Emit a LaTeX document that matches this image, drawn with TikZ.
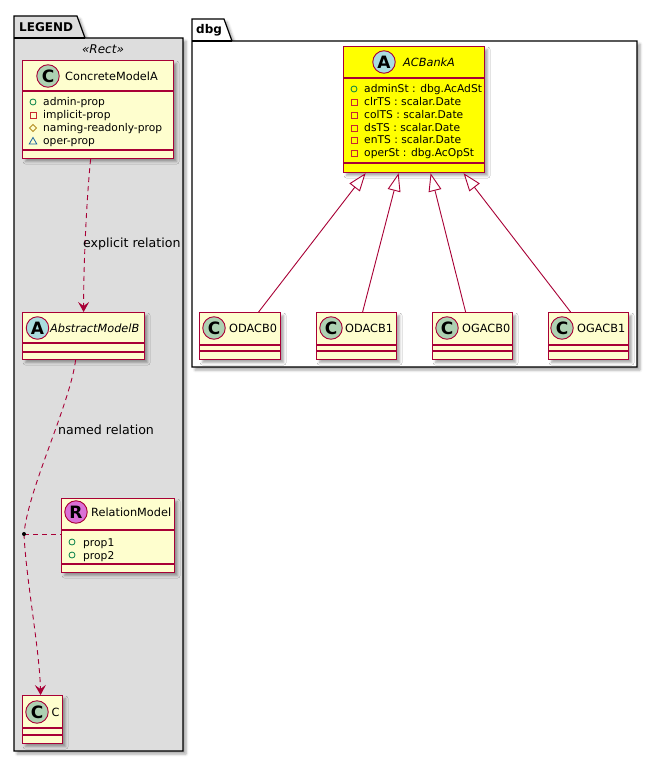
\documentclass[tikz,border=0pt]{standalone}
\usepackage{fontspec}
\setmainfont{DejaVu Sans}
\usetikzlibrary{arrows.meta,shadows.blur,calc}
\definecolor{umlborder}{HTML}{A80036}
\definecolor{umlfill}{HTML}{FEFECE}
\definecolor{pkgfill}{HTML}{DDDDDD}
\definecolor{circC}{HTML}{ADD1B2}
\definecolor{circA}{HTML}{A9DCDF}
\definecolor{circR}{HTML}{DA70D6}
\definecolor{visPub}{HTML}{038048}
\definecolor{visPriv}{HTML}{C82930}
\definecolor{visProt}{HTML}{B38D22}
\definecolor{visPkg}{HTML}{1963A0}
\definecolor{acyellow}{HTML}{FFFF00}
\newcommand{\vpub}[2]{\draw[visPub, line width=0.8pt] (#1,#2) circle (3pt);}
\newcommand{\vpriv}[2]{\draw[visPriv, line width=0.8pt] (#1-3,#2-3) rectangle (#1+3,#2+3);}
\newcommand{\vprot}[2]{\draw[visProt, line width=0.8pt] (#1-3.5,#2) -- (#1,#2-3.5) -- (#1+3.5,#2) -- (#1,#2+3.5) -- cycle;}
\newcommand{\vpkg}[2]{\draw[visPkg, line width=0.8pt] (#1-3.8,#2+3) -- (#1+3.8,#2+3) -- (#1,#2-3.5) -- cycle;}
\begin{document}
\begin{tikzpicture}[x=1pt,y=-1pt,
  shadowed/.style={blur shadow={shadow xshift=3pt,shadow yshift=-3pt,shadow blur radius=2.5pt,shadow opacity=35}},
  cls/.style={draw=umlborder, fill=umlfill, line width=1.2pt, rectangle, inner sep=0pt, anchor=north west, shadowed},
  sep/.style={draw=umlborder, line width=1.2pt},
  circ/.style={circle, draw=umlborder, line width=0.9pt, minimum size=22.5pt, inner sep=0pt, font=\bfseries\fontsize{17}{17}\selectfont},
  cname/.style={anchor=west, inner sep=0pt, font=\fontsize{11.3}{13.6}\selectfont},
  aname/.style={cname, font=\itshape\fontsize{11.3}{13.6}\selectfont},
  mem/.style={anchor=base west, inner sep=0pt, font=\fontsize{10.7}{12.6}\selectfont},
  lbl/.style={anchor=base west, inner sep=0pt, font=\fontsize{12.6}{15}\selectfont},
  pkg/.style={draw=black, line width=1.2pt, line join=miter},
  pkgtitle/.style={anchor=base west, inner sep=0pt, font=\bfseries\fontsize{12}{14}\selectfont},
  conn/.style={draw=umlborder, line width=0.9pt},
  dep/.style={conn, dash pattern=on 5pt off 4pt, -{Stealth[length=10pt,width=11pt,inset=4pt]}},
  deplink/.style={conn, dash pattern=on 5pt off 4pt},
  gen/.style={conn, -{Triangle[fill=white,length=18pt,width=13pt]}}
]
\useasboundingbox (0,0) rectangle (658,762);

% ---------------- LEGEND package
\path[pkg, fill=pkgfill, shadowed] (14,16) -- (77,16) -- (85,38) -- (183,38) -- (183,751) -- (14,751) -- cycle;
\draw[pkg] (14,38) -- (85,38);
\node[pkgtitle] (legendT) at (19,32) {LEGEND};
\node[anchor=base, inner sep=0pt, font=\itshape\fontsize{12}{14}\selectfont] (rectS) at (103,54) {«Rect»};

% ---------------- dbg package
\path[pkg, fill=white, shadowed] (192,19) -- (224,19) -- (232,41) -- (637,41) -- (637,367) -- (192,367) -- cycle;
\draw[pkg] (192,41) -- (232,41);
\node[pkgtitle] (dbgT) at (196,34) {dbg};

% ---------------- ConcreteModelA
\node[cls, minimum width=151pt, minimum height=98pt] (cma) at (22,60) {};
\draw[sep] (22,91) -- (173,91);
\draw[sep] (22,150) -- (173,150);
\node[circ, fill=circC] (cmaI) at (48,76) {C};
\node[cname] (cmaN) at (65,76) {ConcreteModelA};
\vpub{33}{102}
\node[mem] (cma1) at (43,106) {admin-prop};
\vpriv{33}{115}
\node[mem] (cma2) at (43,119) {implicit-prop};
\vprot{33}{128}
\node[mem] (cma3) at (43,132) {naming-readonly-prop};
\vpkg{33}{141}
\node[mem] (cma4) at (43,145) {oper-prop};

% ---------------- AbstractModelB
\node[cls, minimum width=122pt, minimum height=47pt] (amb) at (22,312) {};
\draw[sep] (22,343) -- (144,343);
\draw[sep] (22,352) -- (144,352);
\node[circ, fill=circA] (ambI) at (37.5,328) {A};
\node[aname] (ambN) at (50,328) {AbstractModelB};

% ---------------- RelationModel
\node[cls, minimum width=113pt, minimum height=74pt] (rm) at (61,498) {};
\draw[sep] (61,530) -- (174,530);
\draw[sep] (61,564) -- (174,564);
\node[circ, fill=circR] (rmI) at (76,512) {R};
\node[cname] (rmN) at (91,512) {RelationModel};
\vpub{72}{542}
\node[mem] (rm1) at (83,546) {prop1};
\vpub{72}{555}
\node[mem] (rm2) at (83,559) {prop2};

% ---------------- C
\node[cls, minimum width=40pt, minimum height=48pt] (c) at (22,695) {};
\draw[sep] (22,728) -- (62,728);
\draw[sep] (22,735) -- (62,735);
\node[circ, fill=circC] (cI) at (37,712) {C};
\node[cname] (cN) at (51.5,712) {C};

% ---------------- ACBankA
\node[cls, fill=acyellow, minimum width=141pt, minimum height=126pt] (ac) at (343,46) {};
\draw[sep] (343,78) -- (484,78);
\draw[sep] (343,163) -- (484,163);
\node[circ, fill=circA] (acI) at (384,62) {A};
\node[aname] (acN) at (403,62) {ACBankA};
\vpub{354}{89}
\node[mem] (ac1) at (364,93) {adminSt : dbg.AcAdSt};
\vpriv{354}{102}
\node[mem] (ac2) at (364,106) {clrTS : scalar.Date};
\vpriv{354}{115}
\node[mem] (ac3) at (364,119) {colTS : scalar.Date};
\vpriv{354}{128}
\node[mem] (ac4) at (364,132) {dsTS : scalar.Date};
\vpriv{354}{140}
\node[mem] (ac5) at (364,144) {enTS : scalar.Date};
\vpriv{354}{153}
\node[mem] (ac6) at (364,157) {operSt : dbg.AcOpSt};

% ---------------- subclasses
\node[cls, minimum width=81pt, minimum height=47pt] (o0) at (199,312) {};
\draw[sep] (199,345) -- (280,345);
\draw[sep] (199,351) -- (280,351);
\node[circ, fill=circC] (o0I) at (214,328) {C};
\node[cname] (o0N) at (229,328) {ODACB0};

\node[cls, minimum width=80pt, minimum height=47pt] (o1) at (316,312) {};
\draw[sep] (316,345) -- (396,345);
\draw[sep] (316,351) -- (396,351);
\node[circ, fill=circC] (o1I) at (331,328) {C};
\node[cname] (o1N) at (345,328) {ODACB1};

\node[cls, minimum width=80pt, minimum height=47pt] (g0) at (432,312) {};
\draw[sep] (432,345) -- (512,345);
\draw[sep] (432,351) -- (512,351);
\node[circ, fill=circC] (g0I) at (447,328) {C};
\node[cname] (g0N) at (462,328) {OGACB0};

\node[cls, minimum width=80pt, minimum height=47pt] (g1) at (548,312) {};
\draw[sep] (548,345) -- (628,345);
\draw[sep] (548,351) -- (628,351);
\node[circ, fill=circC] (g1I) at (562,328) {C};
\node[cname] (g1N) at (577,328) {OGACB1};

% ---------------- connectors
\draw[gen] ([xshift=18.5pt]o0.north) -- ([xshift=-48.5pt]ac.south);
\draw[gen] ([xshift=6pt]o1.north) -- ([xshift=-15.5pt]ac.south);
\draw[gen] ([xshift=-7pt]g0.north) -- ([xshift=16.5pt]ac.south);
\draw[gen] ([xshift=-18pt]g1.north) -- ([xshift=49.5pt]ac.south);

\draw[dep] ([xshift=-7.5pt]cma.south) .. controls +(-4,40) and +(0,-50) .. (amb.north);
\node[lbl] (l1) at (83,247) {explicit relation};

\coordinate (midc) at (24,534);
\draw[deplink] ([xshift=-8pt]amb.south) .. controls +(-6,45) and +(4,-45) .. (midc);
\draw[dep] (midc) .. controls +(2,45) and +(-1,-45) .. ([xshift=-2pt]c.north);
\draw[deplink] (midc) -- (rm.west |- midc);
\node[circle, fill=black, inner sep=0pt, minimum size=4pt] (mid) at (midc) {};
\node[lbl] (l2) at (58,434) {named relation};
\end{tikzpicture}
\end{document}
